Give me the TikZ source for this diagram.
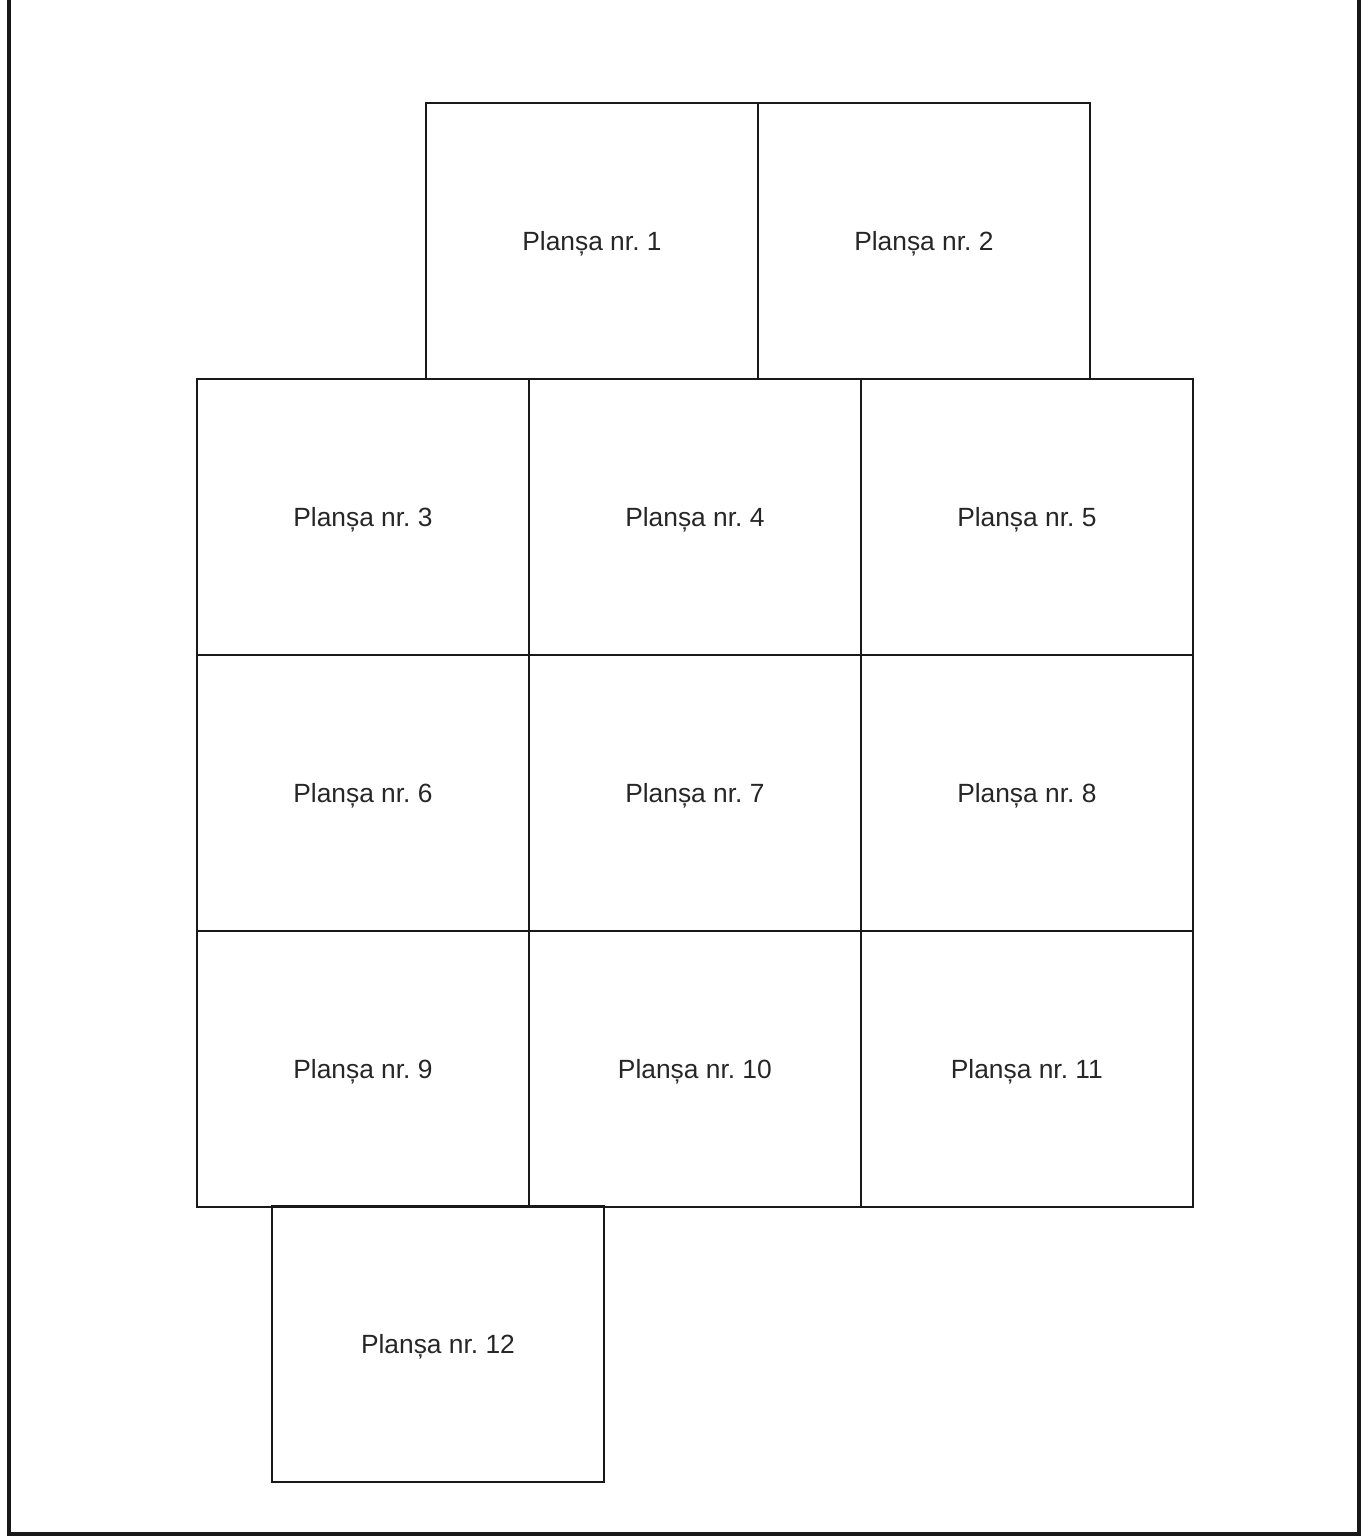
\documentclass[tikz,border=0pt]{standalone}
\usepackage{fontspec}
\setmainfont{Liberation Sans}
\usetikzlibrary{positioning}
\frenchspacing

\begin{document}
\begin{tikzpicture}[x=0.02cm, y=-0.02cm, node distance=0cm,
  every node/.style={text=black!85, font=\fontsize{15}{18}\selectfont},
  frame/.style={line width=2.2pt, draw=black!90},
  plansa/.style={draw=black!90, line width=0.8pt, minimum width=6.64cm,
                 minimum height=5.52cm, inner sep=0pt, outer sep=0pt,
                 text depth=0pt}]

  \useasboundingbox (0,0) rectangle (1367,1539);

  %% page frame
  \draw[frame] (9,0) -- (9,1534) -- (1359,1534) -- (1359,0);

  %% row 1
  \node[plansa, anchor=north west] (p1) at (426,103) {Planșa nr. 1};
  \node[plansa, right=of p1] (p2) {Planșa nr. 2};

  %% row 2
  \node[plansa, anchor=north west] (p3) at (197,379) {Planșa nr. 3};
  \node[plansa, right=of p3] (p4) {Planșa nr. 4};
  \node[plansa, right=of p4] (p5) {Planșa nr. 5};

  %% row 3
  \node[plansa, below=of p3] (p6) {Planșa nr. 6};
  \node[plansa, right=of p6] (p7) {Planșa nr. 7};
  \node[plansa, right=of p7] (p8) {Planșa nr. 8};

  %% row 4
  \node[plansa, below=of p6] (p9)  {Planșa nr. 9};
  \node[plansa, right=of p9] (p10) {Planșa nr. 10};
  \node[plansa, right=of p10] (p11) {Planșa nr. 11};

  %% row 5
  \node[plansa, anchor=north west] (p12) at (272,1206) {Planșa nr. 12};

\end{tikzpicture}
\end{document}
